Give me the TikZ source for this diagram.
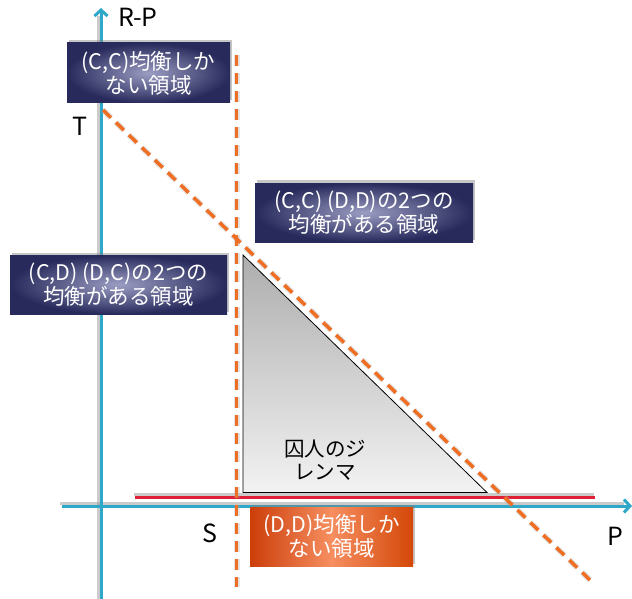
\documentclass[tikz,border=0pt]{standalone}
\usepackage{fontspec}
\setmainfont{Noto Sans CJK JP}
\usetikzlibrary{shadows,arrows.meta}
\definecolor{axisblue}{RGB}{46,168,200}
\definecolor{dashorange}{RGB}{238,110,36}
\definecolor{navydark}{RGB}{40,42,92}
\definecolor{navylight}{RGB}{155,157,195}
\definecolor{orangedark}{RGB}{204,62,10}
\definecolor{orangelight}{RGB}{246,142,96}
\definecolor{linered}{RGB}{222,32,52}

\begin{document}
\begin{tikzpicture}[x=1pt,y=-1pt,>={Straight Barb[length=6pt,width=13pt]},
  axis/.style={draw=axisblue,line width=3pt,->},
  shade line/.style={draw=black!45,line width=3pt,opacity=0.45},
  border/.style={draw=dashorange,line width=3.5pt,dash pattern=on 11pt off 7pt},
  halo/.style={draw=black!35,line width=6pt,opacity=0.3,dash pattern=on 11pt off 7pt},
  region/.style={rectangle,inner sep=0pt,minimum height=60pt,align=center,
    text=white,font=\fontsize{21.5}{24}\selectfont,
    drop shadow={shadow xshift=1.5pt,shadow yshift=2.5pt,opacity=0.45}},
  navybox/.style={region,inner color=navylight,outer color=navydark},
  redbox/.style={region,left color=orangedark,right color=orangedark!85!orange,middle color=orangelight},
  label/.style={font=\fontsize{25}{25}\selectfont}]
\useasboundingbox (0,0) rectangle (632,599);

% axes
\coordinate (ybot) at (101,599);
\coordinate (ytop) at (101,8);
\coordinate (xleft) at (62,506);
\coordinate (xright) at (632,506);
\draw[shade line] (98.5,599) -- (98.5,16);
\draw[shade line] (60,503) -- (624,503);
\path[axis] (ybot) -- (ytop);
\path[axis] (xleft) -- (xright);

% red line
\coordinate (r1) at (135,497.5);
\coordinate (r2) at (595,497.5);
\draw[shade line] (134,494.5) -- (594,494.5);
\draw[draw=linered,line width=3pt] (r1) -- (r2);

% triangle
\coordinate (t1) at (243,255);
\coordinate (t2) at (243,492.5);
\coordinate (t3) at (487,492.5);
\draw[black,line width=0.8pt,top color=black!32,bottom color=black!5] (t1) -- (t2) -- (t3) -- cycle;
\node[font=\fontsize{20.5}{23}\selectfont,align=center] (pd) at (325,460) {囚人のジ\\レンマ};

% boundaries
\coordinate (v1) at (236.5,55);
\coordinate (v2) at (236.5,587);
\coordinate (d1) at (103,110);
\coordinate (d2) at (590,580);
\path[halo] (v1) -- (v2);
\path[halo] (d1) -- (d2);
\path[border] (v1) -- (v2);
\path[border] (d1) -- (d2);

% regions
\node[navybox,minimum width=163pt] (cc) at (148.5,73) {(C,C)均衡しか\\ない領域};
\node[navybox,minimum width=218pt,minimum height=59pt] (ccdd) at (364,212.5) {(C,C) (D,D)の2つの\\均衡がある領域};
\node[navybox,minimum width=217pt,minimum height=59pt] (cddc) at (118.5,284.5) {(C,D) (D,C)の2つの\\均衡がある領域};
\node[redbox,minimum width=163pt,minimum height=59pt] (dd) at (331.5,536.5) {(D,D)均衡しか\\ない領域};

% labels
\node[label] (rp) at (138,17) {R-P};
\node[label] (t) at (80,126) {T};
\node[label] (s) at (210,533) {S};
\node[label] (p) at (615,536) {P};
\end{tikzpicture}
\end{document}
